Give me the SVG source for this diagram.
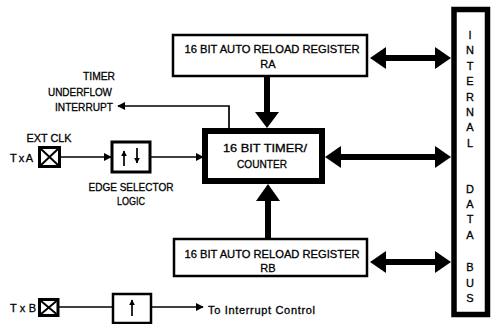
<svg xmlns="http://www.w3.org/2000/svg" width="498" height="324" viewBox="0 0 498 324">
<style>
text{font-family:"Liberation Sans",Arial,sans-serif;font-size:11px;fill:#000;stroke:#000;stroke-width:0.3}
.c{text-anchor:middle}
.box{fill:#fff;stroke:#000}
.thin{stroke:#000;stroke-width:1.7;fill:none}
.thick{stroke:#000;stroke-width:6;fill:none}
.head{fill:#000}
</style>
<defs>
<marker id="ah" viewBox="0 0 10 10" refX="9" refY="5" markerWidth="6" markerHeight="6" markerUnits="userSpaceOnUse" orient="auto"><path d="M0,0 L10,5 L0,10 z" fill="#000"/></marker>
<marker id="ahs" viewBox="0 0 10 10" refX="9" refY="5" markerWidth="8" markerHeight="8" markerUnits="userSpaceOnUse" orient="auto"><path d="M0,0 L10,5 L0,10 z" fill="#000"/></marker>
</defs>
<rect width="498" height="324" fill="#fff"/>

<g id="ra">
<rect class="box" x="173" y="35" width="194" height="41" stroke-width="2.5"/>
<text class="c" x="272" y="52.5" textLength="175" lengthAdjust="spacingAndGlyphs">16 BIT AUTO RELOAD REGISTER</text>
<text class="c" x="268" y="67.5">RA</text>
</g>

<g id="timer">
<rect class="box" x="205" y="131" width="117" height="50" stroke-width="6"/>
<text class="c" x="265" y="151.5" textLength="84" lengthAdjust="spacingAndGlyphs">16 BIT TIMER/</text>
<text class="c" x="262" y="167.5" textLength="50" lengthAdjust="spacingAndGlyphs">COUNTER</text>
</g>

<g id="rb">
<rect class="box" x="174" y="239" width="193" height="37" stroke-width="2.5"/>
<text class="c" x="272" y="257.5" textLength="175" lengthAdjust="spacingAndGlyphs">16 BIT AUTO RELOAD REGISTER</text>
<text class="c" x="268" y="271.5">RB</text>
</g>

<g id="bus">
<rect class="box" x="454" y="9.5" width="33.5" height="305" stroke-width="5.5"/>
<g class="c">
<text x="470" y="39">I</text>
<text x="470" y="54">N</text>
<text x="470" y="70">T</text>
<text x="470" y="85">E</text>
<text x="470" y="101">R</text>
<text x="470" y="116">N</text>
<text x="470" y="131">A</text>
<text x="470" y="147">L</text>
<text x="470" y="193">D</text>
<text x="470" y="208">A</text>
<text x="470" y="223">T</text>
<text x="470" y="239">A</text>
<text x="470" y="271">B</text>
<text x="470" y="287">U</text>
<text x="470" y="302">S</text>
</g>
</g>

<g id="underflow">
<text class="c" x="99" y="79.5" textLength="32" lengthAdjust="spacingAndGlyphs">TIMER</text>
<text class="c" x="80" y="95.5" textLength="64" lengthAdjust="spacingAndGlyphs">UNDERFLOW</text>
<text class="c" x="84" y="110.5" textLength="58" lengthAdjust="spacingAndGlyphs">INTERRUPT</text>
</g>

<g id="txa">
<text class="c" x="49" y="141.5" textLength="45" lengthAdjust="spacingAndGlyphs">EXT CLK</text>
<text x="10" y="161.5" textLength="23" lengthAdjust="spacing">T x A</text>
<rect class="box" x="39.5" y="147.5" width="20" height="19" stroke-width="3"/>
<path d="M41,149 L58,165 M58,149 L41,165" stroke="#000" stroke-width="2"/>
</g>

<g id="edge">
<rect class="box" x="112" y="142" width="38" height="30" stroke-width="3"/>
<path class="thin" d="M124,166 L124,151" marker-end="url(#ah)"/>
<path class="thin" d="M137,148 L137,163" marker-end="url(#ah)"/>
<text class="c" x="131" y="190.5" textLength="85" lengthAdjust="spacingAndGlyphs">EDGE SELECTOR</text>
<text class="c" x="131" y="204.5" textLength="28" lengthAdjust="spacingAndGlyphs">LOGIC</text>
</g>

<g id="txb">
<text x="10" y="311.5" textLength="26" lengthAdjust="spacing">T x B</text>
<rect class="box" x="39.5" y="299.5" width="18.5" height="16" stroke-width="3"/>
<path d="M41,301 L56.5,314 M56.5,301 L41,314" stroke="#000" stroke-width="2"/>
</g>

<g id="edgeb">
<rect class="box" x="113" y="294" width="38" height="29" stroke-width="2.5"/>
<path class="thin" d="M132,316 L132,300" marker-end="url(#ah)"/>
</g>

<g id="intctl">
<text x="208" y="314" textLength="107" lengthAdjust="spacing">To Interrupt Control</text>
</g>

<g id="connectors">
<path class="thin" d="M59,157 L111,157" marker-end="url(#ahs)"/>
<path class="thin" d="M150,157 L203,157" marker-end="url(#ahs)"/>
<path class="thin" d="M229,128 L229,106 L118,106" marker-end="url(#ahs)"/>
<path class="thin" d="M58,307 L113,307"/>
<path class="thin" d="M151,307 L203,307" marker-end="url(#ahs)"/>
<path class="thick" d="M267,77 L267,114"/>
<path class="head" d="M255,112 L279,112 L267,128 z"/>
<path class="thick" d="M268,239 L268,200"/>
<path class="head" d="M256,201 L280,201 L268,184 z"/>
<path class="thick" d="M384,58 L436,58"/>
<path class="head" d="M370,58 L386,47 L386,69 z"/>
<path class="head" d="M451,58 L435,47 L435,69 z"/>
<path class="thick" d="M339,157 L436,157"/>
<path class="head" d="M325,157 L341,146 L341,168 z"/>
<path class="head" d="M451,157 L435,146 L435,168 z"/>
<path class="thick" d="M384,262 L436,262"/>
<path class="head" d="M370,262 L386,251 L386,273 z"/>
<path class="head" d="M451,262 L435,251 L435,273 z"/>
</g>
</svg>
